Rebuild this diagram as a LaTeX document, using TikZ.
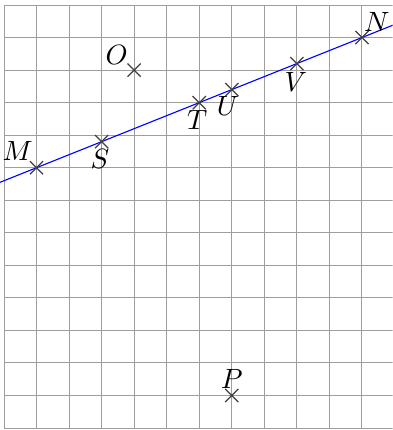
\documentclass[tikz,border=0pt]{standalone}
\usetikzlibrary{shapes.misc,calc}
\begin{document}
\begin{tikzpicture}[x=0.41cm,y=0.41cm,
  gridline/.style={black!38,line width=0.35pt},
  ptmark/.style={cross out,draw=black!75,line width=0.45pt,minimum size=0.15cm,inner sep=0pt},
  lbl/.style={inner sep=0pt,font=\fontsize{10.4}{12}\selectfont},
  mline/.style={blue,line width=0.4pt}]
\useasboundingbox (-0.123,-0.06) rectangle (11.94,13.154);
\clip (-0.123,-0.06) rectangle (11.94,13.154);
\draw[gridline,step=0.41cm] (0,0) grid (12,13);
\coordinate (M) at (1,8);
\coordinate (N) at (11,12);
\draw[mline] ($(M)!-0.2!(N)$) -- ($(N)!-0.2!(M)$);
\node[ptmark] (m) at (M) {};
\node[ptmark] (n) at (N) {};
\node[ptmark] (s) at (3,8.8) {};
\node[ptmark] (t) at (6,10) {};
\node[ptmark] (u) at (7,10.4) {};
\node[ptmark] (v) at (9,11.2) {};
\node[ptmark] (o) at (4,11) {};
\node[ptmark] (p) at (7,1) {};
\node[lbl] (ml) at ($(m)+(-0.58,0.52)$) {$M$};
\node[lbl] (nl) at ($(n)+(0.46,0.49)$) {$N$};
\node[lbl] (sl) at ($(s)+(-0.05,-0.52)$) {$S$};
\node[lbl] (tl) at ($(t)+(-0.06,-0.52)$) {$T$};
\node[lbl] (ul) at ($(u)+(-0.12,-0.49)$) {$U$};
\node[lbl] (vl) at ($(v)+(-0.03,-0.55)$) {$V$};
\node[lbl] (ol) at ($(o)+(-0.54,0.46)$) {$O$};
\node[lbl] (pl) at ($(p)+(0,0.52)$) {$P$};
\end{tikzpicture}
\end{document}
